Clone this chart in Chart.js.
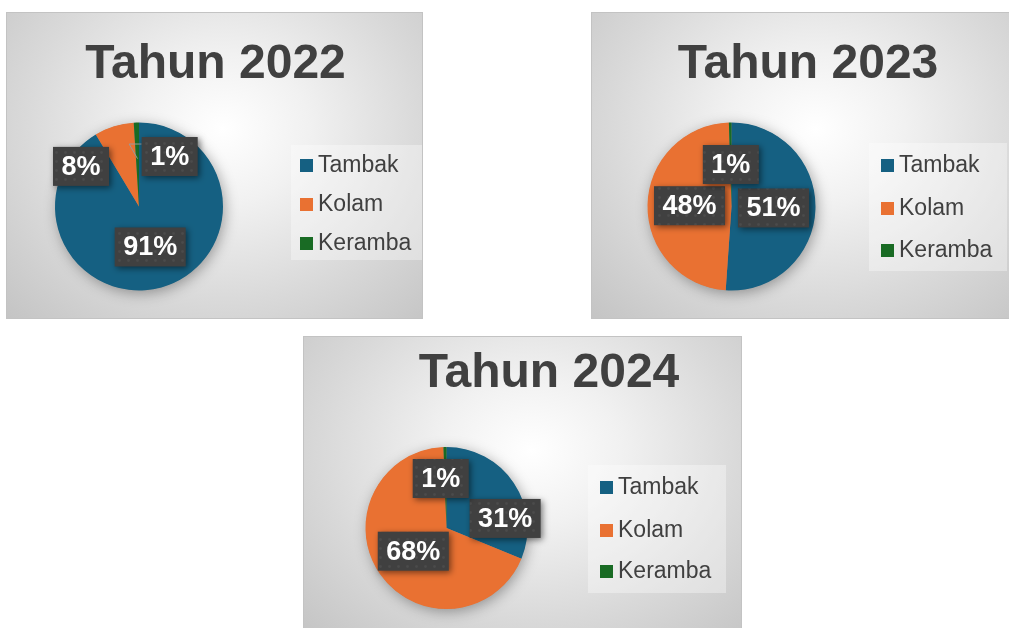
<!DOCTYPE html>
<html>
<head>
<meta charset="utf-8">
<script src="https://cdn.jsdelivr.net/npm/chart.js@4.4.1/dist/chart.umd.min.js"></script>
<style>
body{margin:0;width:1009px;height:628px;overflow:hidden;background:#fff;position:relative;font-family:"Liberation Sans",Arial,sans-serif}
.panel{position:absolute;box-sizing:border-box;border:1px solid #c3c3c3;overflow:hidden;
  background:radial-gradient(farthest-corner at 52% 38%,#ffffff 0%,#f1f1f1 28%,#d9d9d9 65%,#c4c4c4 100%)}
.panel canvas{position:absolute;left:0;top:0}
.title{position:absolute;transform:translateX(-50%);white-space:nowrap;font-weight:bold;font-size:48px;line-height:48px;color:#404040}
.legend{position:absolute;background:rgba(255,255,255,0.35)}
.legend .row{position:absolute;left:0;height:28px;line-height:28px;font-size:23px;color:#404040;white-space:nowrap}
.legend .sq{position:absolute;top:9px;width:13px;height:13px}
</style>
</head>
<body>

<script>
// data
const categories = ['Tambak', 'Kolam', 'Keramba'];
const years = ['Tahun 2022', 'Tahun 2023', 'Tahun 2024'];
const share2022 = [91.4, 7.6, 1.0];
const share2023 = [51.1, 48.4, 0.5];
const share2024 = [31.2, 68.2, 0.6];
const colors = ['#156082', '#E97132', '#196B24'];

// layout of the three panels (page px)
const panels = [
  {left:6, top:12, w:417, h:307, data:share2022, title:years[0], titleX:208.5, titleY:25,
   pie:{cx:132, cy:193.5, r:84}, legend:{x:284, y:132, w:137, h:115, sqX:9, txtX:27, rows:[19,58,97]},
   nudge:[[0,0],[-45.5,0],[32,-8]], leader:[false,false,true]},
  {left:591, top:12, w:432, h:307, data:share2023, title:years[1], titleX:216, titleY:25,
   pie:{cx:139.5, cy:193.5, r:84}, legend:{x:277, y:130, w:138, h:128, sqX:12, txtX:30, rows:[21,64,106]},
   nudge:[[0,0],[0,0],[0,0]], leader:[false,false,false]},
  {left:303, top:336, w:439, h:300, data:share2024, title:years[2], titleX:245, titleY:9.5,
   pie:{cx:142.5, cy:191, r:81}, legend:{x:284, y:128, w:138, h:128, sqX:12, txtX:30, rows:[21,64,105]},
   nudge:[[25,13],[0,0],[-5,-9]], leader:[false,false,false]}
];

// dotted texture for the label boxes
const tex = document.createElement('canvas');
tex.width = 9; tex.height = 9;
const tctx = tex.getContext('2d');
tctx.fillStyle = '#404040';
tctx.fillRect(0, 0, 9, 9);
tctx.fillStyle = '#4b4b4b';
tctx.beginPath(); tctx.arc(4.5, 4.5, 1.4, 0, Math.PI*2); tctx.fill();

// soft shadow under the pie
const pieShadow = {
  id: 'pieShadow',
  beforeDatasetsDraw(chart){
    const arc = chart.getDatasetMeta(0).data[0];
    if(!arc) return;
    const ctx = chart.ctx;
    ctx.save();
    ctx.shadowColor = 'rgba(0,0,0,0.35)';
    ctx.shadowBlur = 14;
    ctx.shadowOffsetX = 2;
    ctx.shadowOffsetY = 3;
    ctx.fillStyle = '#888';
    ctx.beginPath();
    ctx.arc(arc.x, arc.y, arc.outerRadius - 0.5, 0, Math.PI*2);
    ctx.fill();
    ctx.restore();
  }
};

// percentage boxes
const pctLabels = {
  id: 'pctLabels',
  afterDatasetsDraw(chart, args, opts){
    const ctx = chart.ctx;
    const ds = chart.data.datasets[0].data;
    const total = ds.reduce((a, b) => a + b, 0);
    const pattern = ctx.createPattern(tex, 'repeat');
    chart.getDatasetMeta(0).data.forEach((arc, i) => {
      const mid = (arc.startAngle + arc.endAngle) / 2;
      const r = arc.outerRadius;
      const lx = arc.x + Math.cos(mid) * r * 0.5 + opts.nudge[i][0];
      const ly = arc.y + Math.sin(mid) * r * 0.5 + opts.nudge[i][1];
      const txt = Math.round(ds[i] / total * 100) + '%';
      ctx.save();
      ctx.font = 'bold 27px "Liberation Sans", Arial, sans-serif';
      const bw = ctx.measureText(txt).width + 17;
      const bh = 39;
      const bx = lx - bw/2, by = ly - bh/2;
      if(opts.leader[i]){
        const ax = arc.x + Math.cos(mid) * r * 0.57;
        const ay = arc.y + Math.sin(mid) * r * 0.57;
        ctx.strokeStyle = '#9a9a9a';
        ctx.lineWidth = 1;
        ctx.beginPath();
        ctx.moveTo(ax, ay);
        ctx.lineTo(bx - 12.5, by + 7);
        ctx.lineTo(bx, by + 7);
        ctx.stroke();
      }
      ctx.shadowColor = 'rgba(0,0,0,0.5)';
      ctx.shadowBlur = 6;
      ctx.shadowOffsetX = 2;
      ctx.shadowOffsetY = 2;
      ctx.fillStyle = pattern;
      ctx.fillRect(bx, by, bw, bh);
      ctx.shadowColor = 'transparent';
      ctx.fillStyle = '#ffffff';
      ctx.textAlign = 'center';
      ctx.textBaseline = 'middle';
      ctx.fillText(txt, lx, ly + 1);
      ctx.restore();
    });
  }
};

panels.forEach((p) => {
  const div = document.createElement('div');
  div.className = 'panel';
  div.style.left = p.left + 'px';
  div.style.top = p.top + 'px';
  div.style.width = p.w + 'px';
  div.style.height = p.h + 'px';
  document.body.appendChild(div);

  const canvas = document.createElement('canvas');
  canvas.width = p.w - 2;
  canvas.height = p.h - 2;
  div.appendChild(canvas);

  const title = document.createElement('div');
  title.className = 'title';
  title.style.left = p.titleX + 'px';
  title.style.top = p.titleY + 'px';
  title.textContent = p.title;
  div.appendChild(title);

  const lg = document.createElement('div');
  lg.className = 'legend';
  lg.style.left = p.legend.x + 'px';
  lg.style.top = p.legend.y + 'px';
  lg.style.width = p.legend.w + 'px';
  lg.style.height = p.legend.h + 'px';
  categories.forEach((c, i) => {
    const row = document.createElement('div');
    row.className = 'row';
    row.style.top = (p.legend.rows[i] - 14) + 'px';
    row.style.left = p.legend.txtX + 'px';
    row.textContent = c;
    const sq = document.createElement('span');
    sq.className = 'sq';
    sq.style.left = (p.legend.sqX - p.legend.txtX) + 'px';
    sq.style.background = colors[i];
    row.appendChild(sq);
    lg.appendChild(row);
  });
  div.appendChild(lg);

  const cw = p.w - 2, ch = p.h - 2;
  const pc = p.pie;
  new Chart(canvas, {
    type: 'pie',
    data: {
      labels: categories,
      datasets: [{ data: p.data, backgroundColor: colors, borderWidth: 0 }]
    },
    options: {
      responsive: false,
      animation: false,
      events: [],
      layout: { padding: {
        left: pc.cx - pc.r, top: pc.cy - pc.r,
        right: cw - (pc.cx + pc.r), bottom: ch - (pc.cy + pc.r)
      }},
      plugins: {
        legend: { display: false },
        tooltip: { enabled: false },
        pctLabels: { nudge: p.nudge, leader: p.leader }
      }
    },
    plugins: [pieShadow, pctLabels]
  });
});
</script>
</body>
</html>
